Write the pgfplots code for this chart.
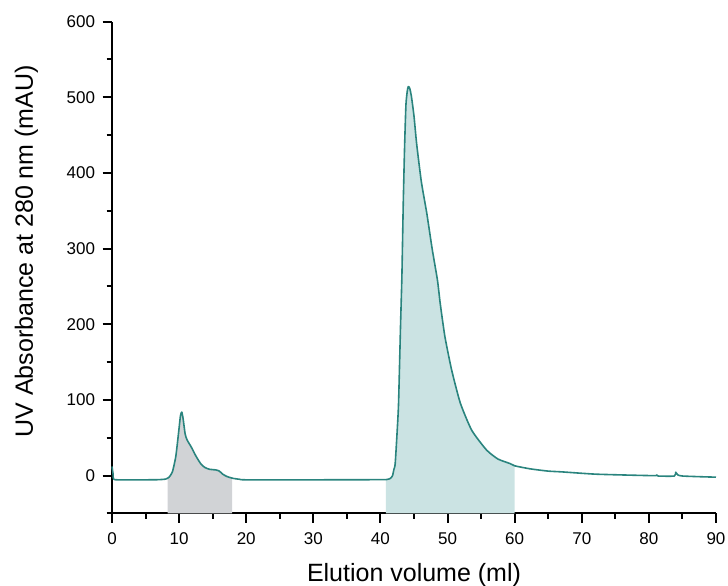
\documentclass[border=0pt]{standalone}
\usepackage{pgfplots}
\pgfplotsset{compat=1.18}
\usepgfplotslibrary{fillbetween}
\usepackage{fontspec}
\setmainfont{Liberation Sans}
\definecolor{tealline}{HTML}{2A847E}
\definecolor{tealfill}{HTML}{CBE3E3}
\definecolor{grayfill}{HTML}{D1D3D6}
\pgfplotstableread{
x y
0 12
0.15 3
0.3 -5
2 -5.5
5 -5.5
7 -5.3
8 -4.5
8.5 -2
9 5
9.5 25
9.9 55
10.2 79
10.4 84
10.6 75
10.9 55
11.2 47
11.8 38
12.5 26
13.2 16
13.8 11
14.5 8.5
15.5 7.5
16 6
16.5 2
17.1 -1
18 -3.5
19 -4.8
20 -5.5
30 -5.5
40 -5.3
41 -5
41.5 -3.5
41.8 0
42.0 8
42.2 16
42.5 60
42.7 96
43.0 200
43.2 265
43.4 360
43.6 435
43.8 490
44.0 508
44.15 514
44.35 512
44.6 502
45.0 475
45.4 438
46.1 388
46.9 347
47.7 300
48.5 258
48.9 228
49.6 184
50.6 140
51.9 96
53.6 60
55.8 34
57.5 22
59.3 16
60 13
62.3 9
65 6
67 5
72 2
78 0.5
81 0
81.2 1
81.4 -0.5
83.8 -0.5
84.0 4.5
84.3 1
85 -0.5
88 -1.5
90 -2
}\datatable
\begin{document}
\begin{tikzpicture}
\begin{axis}[
  scale only axis,
  width=604pt, height=492pt,
  at={(0,0)}, anchor=south west,
  xmin=0, xmax=90, ymin=-50, ymax=600,
  axis x line*=bottom, axis y line*=left,
  axis line style={line width=2pt},
  xtick={0,10,...,90}, ytick={0,100,...,600},
  minor xtick={5,15,...,85}, minor ytick={-50,50,150,...,550},
  tick align=outside,
  major tick length=9.5pt, minor tick length=5.5pt,
  tick style={black, line width=2pt},
  major tick style={black, line width=2pt},
  minor tick style={black, line width=2pt},
  tick label style={font=\fontsize{17}{20}\selectfont},
  /pgf/number format/assume math mode=true,
  yticklabel style={xshift=-4pt},
  xticklabel style={yshift=-6pt},
  xlabel={Elution volume (ml)},
  ylabel={UV Absorbance at 280 nm (mAU)},
  label style={font=\fontsize{25}{30}\selectfont},
  xlabel style={at={(axis description cs:0.5,0)}, anchor=base, yshift=-68pt},
  ylabel style={at={(axis description cs:0,0.533)}, anchor=base, yshift=79pt},
  clip=false,
]
\addplot[name path=curve, draw=none, forget plot, smooth, tension=0.35] table[x=x,y=y]{\datatable};
\path[name path=bot] (axis cs:0,-50) -- (axis cs:90,-50);
\addplot[grayfill, draw=none] fill between[of=curve and bot, soft clip={domain=8.3:17.9}];
\addplot[tealfill, draw=none] fill between[of=curve and bot, soft clip={domain=40.8:60}];
\addplot[tealline, line width=1.6pt, line join=round, smooth, tension=0.35] table[x=x,y=y]{\datatable};
\end{axis}
\pgfresetboundingbox
\path (-112pt,-72.5pt) rectangle (616pt,513.5pt);
\end{tikzpicture}
\end{document}
